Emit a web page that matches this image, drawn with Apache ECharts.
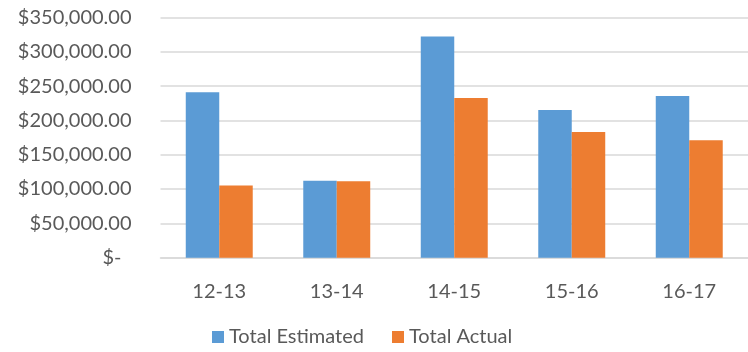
<!DOCTYPE html>
<html>
<head>
<meta charset="utf-8">
<script src="https://cdn.jsdelivr.net/npm/echarts@6/dist/echarts.min.js"></script>
<style>
  html, body { margin: 0; padding: 0; background: #fff; }
  #chart { width: 748px; height: 352px; }
</style>
</head>
<body>
<div id="chart"></div>
<script>
// Fiscal years
const categories = ['12-13', '13-14', '14-15', '15-16', '16-17'];
// Dollar totals per year
const totalEstimated = [241000, 112000, 322000, 215000, 235500];
const totalActual = [105000, 111500, 232500, 183000, 171000];
// Value axis range
const yMin = 0;
const yMax = 350000;
const yStep = 50000;

const FONT = 'Lato';
const TEXT = '#595959';
const GRID = '#D9D9D9';

function money(v) {
  if (v === 0) return '{d|$-}';
  return '$' + v.toLocaleString('en-US', { minimumFractionDigits: 2, maximumFractionDigits: 2 });
}

const chart = echarts.init(document.getElementById('chart'), null, { renderer: 'canvas' });
chart.setOption({
  animation: false,
  backgroundColor: '#fff',
  textStyle: { fontFamily: FONT },
  grid: { left: 160.5, right: -7.5, top: 17.4, bottom: 94.3, containLabel: false },
  legend: {
    bottom: 0,
    left: 207,
    itemWidth: 12,
    itemHeight: 12,
    itemGap: 28,
    icon: 'rect',
    textStyle: { fontFamily: FONT, fontSize: 20, color: TEXT },
    data: ['Total Estimated', 'Total Actual']
  },
  xAxis: {
    type: 'category',
    data: categories,
    axisTick: { show: false },
    axisLine: { show: true, lineStyle: { color: GRID, width: 1.5 } },
    axisLabel: { color: TEXT, fontFamily: FONT, fontSize: 20, margin: 24 }
  },
  yAxis: {
    type: 'value',
    min: yMin,
    max: yMax,
    interval: yStep,
    axisLine: { show: false },
    axisTick: { show: false },
    splitLine: { lineStyle: { color: GRID, width: 1.5 } },
    axisLabel: {
      color: TEXT,
      fontFamily: FONT,
      fontSize: 20,
      margin: 29,
      formatter: money,
      rich: { d: { color: TEXT, fontFamily: FONT, fontSize: 20, padding: [0, 10, 0, 0] } }
    }
  },
  series: [
    {
      name: 'Total Estimated',
      type: 'bar',
      data: totalEstimated,
      barGap: '0%',
      barCategoryGap: '43%',
      itemStyle: { color: '#5B9BD5' }
    },
    {
      name: 'Total Actual',
      type: 'bar',
      data: totalActual,
      barGap: '0%',
      barCategoryGap: '43%',
      itemStyle: { color: '#ED7D31' }
    }
  ]
});
</script>
</body>
</html>
